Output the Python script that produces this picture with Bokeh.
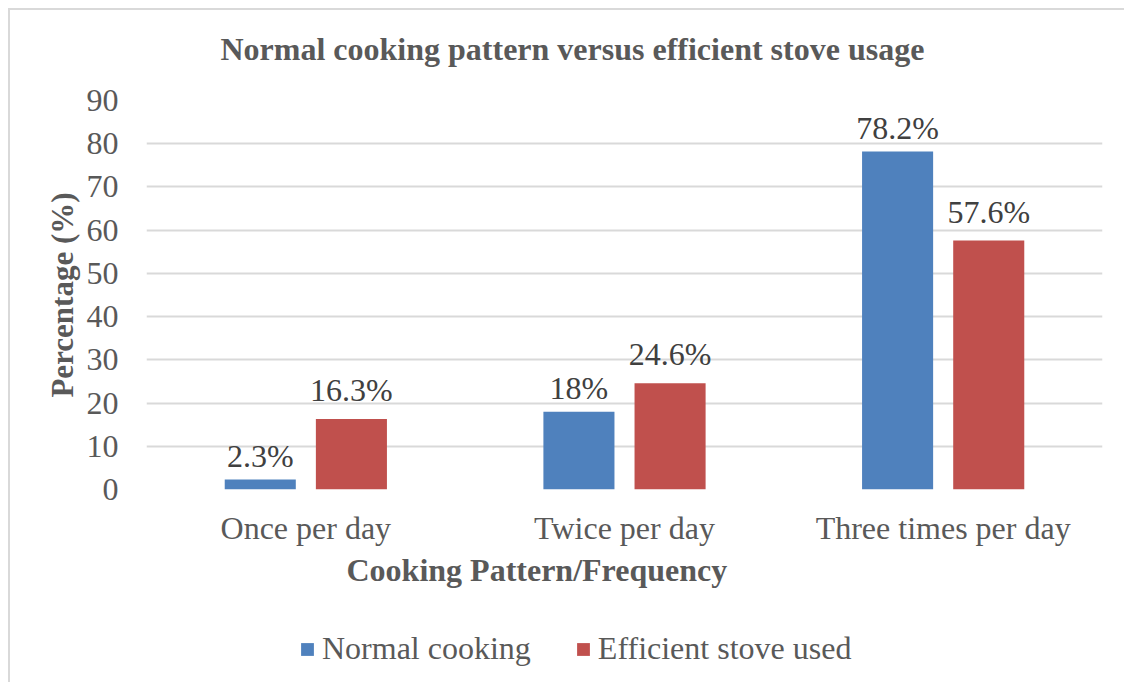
from bokeh.plotting import figure
from bokeh.layouts import column
from bokeh.models import (Range1d, FixedTicker, Title, Label, Legend, LegendItem, ColumnDataSource)
from bokeh.embed import file_html
from bokeh.resources import INLINE
from bokeh.core.properties import value

# ---------------- data ----------------
categories = ["Once per day", "Twice per day", "Three times per day"]
normal_cooking = [2.3, 18.0, 78.2]
efficient_stove = [16.3, 24.6, 57.6]
normal_labels = ["2.3%", "18%", "78.2%"]
efficient_labels = ["16.3%", "24.6%", "57.6%"]
series_names = ["Normal cooking", "Efficient stove used"]
y_ticks = [0, 10, 20, 30, 40, 50, 60, 70, 80, 90]
title_text = "Normal cooking pattern versus efficient stove usage"
x_title = "Cooking Pattern/Frequency"
y_title = "Percentage (%)"

BLUE = "#4f81bd"
RED = "#c0504d"
GREY = "#595959"
DARK = "#404040"
GRID = "#d9d9d9"
SERIF = "Liberation Serif"
W = 1116

centers = [i + 0.5 for i in range(len(categories))]
off = 0.143
bw = 0.223

src_n = ColumnDataSource(dict(x=[c - off for c in centers], top=normal_cooking, lab=normal_labels))
src_e = ColumnDataSource(dict(x=[c + off for c in centers], top=efficient_stove, lab=efficient_labels))


def strip(height, top_border=False):
    f = figure(width=W, height=height, output_backend="svg", toolbar_location=None,
               x_range=Range1d(0, 3), y_range=Range1d(0, 1),
               x_axis_location=None, y_axis_location=None,
               min_border_left=0, min_border_right=0, min_border_top=0, min_border_bottom=0)
    st = {"border-left": "2px solid #d9d9d9", "margin-left": "8px"}
    if top_border:
        st.update({"border-top": "2px solid #d9d9d9", "margin-top": "8px"})
    f.styles = st
    f.outline_line_color = None
    f.xgrid.visible = False
    f.ygrid.visible = False
    return f


# ---------------- title strip ----------------
tf = strip(72, top_border=True)
tf.add_layout(Label(x=0.2322, y=0.21, text=title_text, text_align="left", text_baseline="bottom",
                    text_font=SERIF, text_font_style="bold", text_font_size="32px", text_color=GREY))

# ---------------- main chart ----------------
p = figure(width=W, height=520, output_backend="svg", toolbar_location=None,
           x_range=Range1d(0, 3), y_range=Range1d(0, 90),
           min_border_left=136, min_border_right=24, min_border_top=20, min_border_bottom=111)
p.styles = {"border-left": "2px solid #d9d9d9", "margin-left": "8px"}
p.outline_line_color = None
p.background_fill_color = "white"
p.border_fill_color = "white"

r_n = p.vbar(x="x", top="top", width=bw, bottom=0, source=src_n, fill_color=BLUE, line_color=None)
r_e = p.vbar(x="x", top="top", width=bw, bottom=0, source=src_e, fill_color=RED, line_color=None)

p.text(x="x", y="top", text="lab", source=src_n, text_align="center", text_baseline="bottom",
       y_offset=-6, text_font=value(SERIF), text_font_size="32px", text_color=DARK)
p.text(x="x", y="top", text="lab", source=src_e, text_align="center", text_baseline="bottom",
       y_offset=-11, text_font=value(SERIF), text_font_size="32px", text_color=DARK)

p.xaxis.ticker = FixedTicker(ticks=centers)
p.xaxis.major_label_overrides = {c: n for c, n in zip(centers, categories)}
p.yaxis.ticker = FixedTicker(ticks=y_ticks)
for ax in (p.xaxis, p.yaxis):
    ax.axis_line_color = None
    ax.major_tick_line_color = None
    ax.minor_tick_line_color = None
    ax.major_label_text_font = SERIF
    ax.major_label_text_font_size = "32px"
    ax.major_label_text_color = GREY
p.yaxis.major_label_standoff = 22
p.xaxis.major_label_standoff = 14
p.yaxis.axis_label = y_title
p.yaxis.axis_label_text_font = SERIF
p.yaxis.axis_label_text_font_style = "bold"
p.yaxis.axis_label_text_font_size = "31px"
p.yaxis.axis_label_text_color = GREY
p.yaxis.axis_label_standoff = 4

p.xgrid.grid_line_color = None
p.ygrid.grid_line_color = GRID
p.ygrid.grid_line_width = 2

p.add_layout(Title(text=x_title, align="left", offset=200, standoff=3,
                   text_font=SERIF, text_font_style="bold", text_font_size="32px", text_color=GREY), "below")

# ---------------- legend strip ----------------
lf = strip(82)
lf.y_range = Range1d(-2, -1)
# zero-width copies of the series, only to supply the legend swatches
l_n = lf.vbar(x="x", top="top", width=0, bottom=0, source=src_n, fill_color=BLUE, line_color=None)
l_e = lf.vbar(x="x", top="top", width=0, bottom=0, source=src_e, fill_color=RED, line_color=None)

legend = Legend(items=[LegendItem(label=series_names[0], renderers=[l_n]),
                       LegendItem(label=series_names[1], renderers=[l_e])],
                location=(153, 15), orientation="horizontal",
                glyph_width=16, glyph_height=16, label_standoff=7, spacing=44,
                padding=0, margin=0, border_line_color=None, background_fill_alpha=0,
                label_text_font=SERIF, label_text_font_size="32px", label_text_color=GREY)
lf.add_layout(legend)

layout = column(tf, p, lf, spacing=0)
open("out.html", "w").write(file_html(layout, INLINE))
